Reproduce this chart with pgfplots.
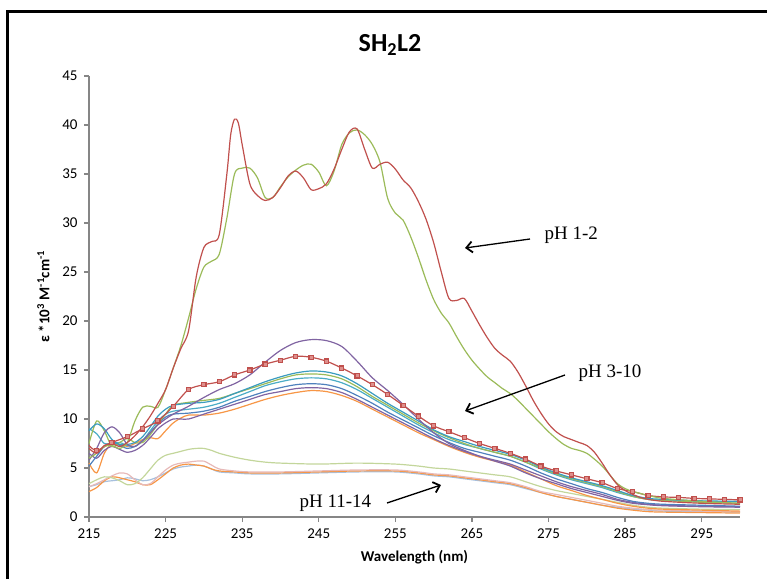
\documentclass[border=0pt]{standalone}
\usepackage{fontspec}
\setmainfont{Carlito}
\newfontfamily\timesfont{Liberation Serif}
\usepackage{pgfplots}
\pgfplotsset{compat=1.18}
\usetikzlibrary{arrows.meta}
\definecolor{xred}{HTML}{C0504D}
\definecolor{xredm}{HTML}{DE8F8C}
\definecolor{xgreen}{HTML}{9BBB59}
\definecolor{xpurple}{HTML}{8064A2}
\definecolor{xteal}{HTML}{3A9CC0}
\definecolor{xcyan}{HTML}{4BACC6}
\definecolor{xblue}{HTML}{4F81BD}
\definecolor{xorange}{HTML}{F79646}
\definecolor{xlgreen}{HTML}{C3D69B}
\definecolor{xpink}{HTML}{E6B9B8}
\definecolor{xlblue}{HTML}{A7C0DE}
\definecolor{axgray}{HTML}{868686}
\begin{document}
\begin{tikzpicture}[x=1pt,y=1pt]
\path[use as bounding box] (0,0) rectangle (767,579);
\draw[line width=3pt] (7,0) -- (7,567) -- (767,567);
\begin{axis}[
  at={(89pt,62pt)}, anchor=south west,
  scale only axis, width=651pt, height=441pt,
  xmin=215, xmax=300, ymin=0, ymax=45,
  xtick={215,225,...,295}, ytick={0,5,...,45},
  axis x line*=bottom, axis y line*=left,
  axis line style={draw=axgray, line width=1.3pt},
  tick style={draw=axgray, line width=1.3pt},
  tick align=outside, major tick length=5pt,
  /pgf/number format/assume math mode=true,
  /pgf/number format/1000 sep={},
  tick label style={font=\fontsize{15}{17}\selectfont, text=black},
  xticklabel style={yshift=-3pt},
  yticklabel style={xshift=-3pt},
  xlabel={\textbf{Wavelength (nm)}},
  ylabel={\textbf{ε *10\textsuperscript{3} M\textsuperscript{-1}cm\textsuperscript{-1}}},
  label style={font=\fontsize{15}{17}\selectfont},
  xlabel style={at={(axis description cs:0.5,-0.091)}, anchor=center},
  ylabel style={at={(axis description cs:-0.07,0.5)}, anchor=center},
  clip=false,
  every axis plot/.append style={line width=1.2pt, smooth, tension=0.5},
]
% ---------- pH 11-14 ----------
\addplot[xlblue, no marks] coordinates {(215,3.1)(216,3.3)(217,3.6)(218,3.7)(219,3.8)(220,4.0)(221,3.9)(222,3.7)(223,3.8)(224,4.1)(225,4.5)(226,4.9)(227,5.1)(228,5.2)(229,5.3)(230,5.2)(231,4.9)(232,4.6)(234,4.5)(236,4.4)(240,4.4)(245,4.5)(250,4.6)(255,4.6)(258,4.4)(260,4.2)(262,4.1)(264,3.9)(266,3.7)(268,3.5)(270,3.3)(272,2.9)(274,2.5)(276,2.1)(278,1.8)(280,1.5)(282,1.2)(284,1.0)(286,0.8)(288,0.7)(290,0.6)(295,0.55)(300,0.5)};
\addplot[xorange, no marks] coordinates {(215,2.6)(216,3.0)(217,3.7)(218,4.1)(219,4.0)(220,3.8)(221,3.6)(222,3.3)(223,3.3)(224,3.8)(225,4.4)(226,5.0)(227,5.3)(228,5.4)(229,5.3)(230,5.2)(231,4.9)(232,4.7)(234,4.6)(236,4.5)(240,4.5)(245,4.6)(250,4.7)(255,4.7)(258,4.5)(260,4.3)(262,4.2)(264,4.0)(266,3.8)(268,3.6)(270,3.4)(272,3.0)(274,2.5)(276,2.1)(278,1.8)(280,1.5)(282,1.2)(284,0.9)(286,0.7)(288,0.55)(290,0.5)(295,0.45)(300,0.4)};
\addplot[xpink, no marks] coordinates {(215,3.1)(216,3.4)(217,3.8)(218,4.2)(219,4.5)(220,4.4)(221,3.8)(222,3.3)(223,3.4)(224,4.1)(225,4.8)(226,5.3)(227,5.5)(228,5.6)(229,5.7)(230,5.7)(231,5.3)(232,4.9)(234,4.7)(236,4.6)(240,4.6)(245,4.7)(250,4.8)(255,4.8)(258,4.6)(260,4.4)(262,4.3)(264,4.1)(266,3.9)(268,3.7)(270,3.5)(272,3.1)(274,2.6)(276,2.3)(278,2.0)(280,1.7)(282,1.4)(284,1.1)(286,0.9)(288,0.75)(290,0.7)(295,0.6)(300,0.55)};
\addplot[xlgreen, no marks] coordinates {(215,3.4)(216,3.8)(217,4.1)(218,4.0)(219,3.7)(220,3.3)(221,3.4)(222,4.0)(223,4.9)(224,5.8)(225,6.3)(226,6.5)(227,6.7)(228,6.9)(229,7.0)(230,7.0)(231,6.8)(232,6.5)(234,6.1)(236,5.8)(238,5.6)(240,5.5)(245,5.4)(250,5.5)(255,5.4)(258,5.2)(260,5.0)(262,4.9)(264,4.7)(266,4.5)(268,4.3)(270,4.1)(272,3.6)(274,3.1)(276,2.7)(278,2.4)(280,2.1)(282,1.8)(284,1.5)(286,1.2)(288,1.0)(290,0.9)(295,0.8)(300,0.75)};
% ---------- pH 3-10 ----------
\addplot[xorange, no marks] coordinates {(215,5.5)(216,4.5)(217,6.5)(218,7.5)(219,7.4)(220,7.2)(221,7.5)(222,7.9)(223,8.1)(224,8.0)(225,8.8)(226,9.6)(227,10.1)(228,10.4)(230,10.4)(232,10.6)(234,11.0)(236,11.5)(238,12.0)(240,12.4)(242,12.7)(244,12.9)(246,12.8)(248,12.4)(250,11.8)(252,11.0)(254,10.2)(256,9.4)(258,8.6)(260,7.9)(262,7.2)(264,6.6)(266,6.1)(268,5.7)(270,5.3)(272,4.6)(274,3.9)(276,3.2)(278,2.7)(280,2.2)(282,1.8)(284,1.4)(286,1.1)(288,0.9)(290,0.8)(295,0.7)(300,0.6)};
\addplot[xpurple, no marks] coordinates {(215,6.5)(216,6.0)(217,6.8)(218,7.2)(219,6.9)(220,6.6)(221,6.8)(222,7.3)(223,8.1)(224,9.0)(225,9.6)(226,10.0)(227,10.0)(228,10.0)(230,10.5)(232,11.0)(234,11.5)(236,12.0)(238,12.5)(240,12.8)(242,13.1)(244,13.2)(246,13.1)(248,12.7)(250,12.0)(252,11.2)(254,10.4)(256,9.6)(258,8.8)(260,8.0)(262,7.3)(264,6.7)(266,6.2)(268,5.8)(270,5.4)(272,4.8)(274,4.2)(276,3.6)(278,3.1)(280,2.7)(282,2.3)(284,1.8)(286,1.5)(288,1.3)(290,1.2)(295,1.1)(300,1.05)};
\addplot[xblue, no marks] coordinates {(215,5.2)(216,6.2)(217,7.2)(218,7.6)(219,7.3)(220,7.0)(221,7.2)(222,7.8)(223,8.6)(224,9.5)(225,10.2)(226,10.5)(228,10.6)(230,10.8)(232,11.2)(234,11.8)(236,12.3)(238,12.8)(240,13.2)(242,13.5)(244,13.6)(246,13.5)(248,13.1)(250,12.4)(252,11.6)(254,10.7)(256,9.9)(258,9.1)(260,8.3)(262,7.6)(264,7.0)(266,6.6)(268,6.2)(270,5.8)(272,5.2)(274,4.5)(276,3.9)(278,3.4)(280,2.9)(282,2.5)(284,2.0)(286,1.6)(288,1.4)(290,1.3)(295,1.2)(300,1.1)};
\addplot[xcyan, no marks] coordinates {(215,9.0)(216,8.5)(217,7.5)(218,7.5)(219,7.6)(220,7.3)(221,7.2)(222,7.8)(223,8.8)(224,9.8)(225,10.5)(226,10.8)(228,11.0)(230,11.2)(232,11.6)(234,12.2)(236,12.8)(238,13.4)(240,13.8)(242,14.1)(244,14.2)(246,14.1)(248,13.7)(250,13.0)(252,12.1)(254,11.2)(256,10.3)(258,9.4)(260,8.6)(262,7.9)(264,7.4)(266,7.0)(268,6.6)(270,6.2)(272,5.6)(274,4.9)(276,4.3)(278,3.8)(280,3.4)(282,3.0)(284,2.5)(286,2.1)(288,1.8)(290,1.7)(295,1.6)(300,1.55)};
\addplot[xgreen, no marks] coordinates {(215,7.5)(216,9.8)(217,8.8)(218,7.2)(219,7.6)(220,8.0)(221,7.6)(222,7.6)(223,8.4)(224,9.5)(225,10.5)(226,11.4)(228,11.7)(230,11.9)(232,12.1)(234,12.6)(236,13.1)(238,13.6)(240,14.1)(242,14.5)(244,14.6)(246,14.5)(248,14.1)(250,13.3)(252,12.3)(254,11.4)(256,10.5)(258,9.6)(260,8.8)(262,8.1)(264,7.5)(266,7.0)(268,6.6)(270,6.2)(272,5.6)(274,5.0)(276,4.4)(278,3.9)(280,3.5)(282,3.1)(284,2.6)(286,2.1)(288,1.8)(290,1.7)(295,1.5)(300,1.4)};
\addplot[xteal, no marks] coordinates {(215,8.8)(216,9.5)(217,9.0)(218,7.9)(219,7.4)(220,7.4)(221,7.6)(222,8.2)(223,9.2)(224,10.3)(225,11.0)(226,11.4)(228,11.6)(230,11.7)(232,12.0)(234,12.6)(236,13.2)(238,13.8)(240,14.3)(242,14.7)(244,14.9)(246,14.8)(248,14.4)(250,13.6)(252,12.6)(254,11.6)(256,10.7)(258,9.8)(260,8.9)(262,8.2)(264,7.7)(266,7.2)(268,6.8)(270,6.4)(272,5.8)(274,5.1)(276,4.5)(278,4.0)(280,3.6)(282,3.2)(284,2.7)(286,2.2)(288,1.9)(290,1.8)(295,1.65)(300,1.6)};
\addplot[xpurple, no marks] coordinates {(215,5.8)(216,7.0)(217,8.6)(218,9.2)(219,8.6)(220,7.4)(221,7.2)(222,7.8)(223,8.6)(224,9.4)(225,10.0)(226,10.5)(228,11.3)(230,12.2)(232,13.0)(234,13.6)(236,14.5)(238,15.8)(240,17.0)(242,17.8)(244,18.1)(246,18.0)(248,17.4)(250,15.9)(252,14.2)(254,12.9)(256,11.5)(258,10.0)(260,8.6)(262,7.5)(264,6.8)(266,6.2)(268,5.7)(270,5.2)(272,4.5)(274,3.9)(276,3.4)(278,2.9)(280,2.5)(282,2.1)(284,1.7)(286,1.4)(288,1.25)(290,1.15)(295,1.05)(300,1.0)};
\addplot[xred, mark=square*, mark size=2.1pt, mark indices={2,...,44},
  mark options={draw=none, fill=xredm, solid}] coordinates {(215,7.3)(216,6.8)(218,7.6)(220,8.2)(222,9.0)(224,9.8)(226,11.3)(228,13.0)(230,13.5)(232,13.8)(234,14.5)(236,15.0)(238,15.6)(240,16.0)(242,16.4)(244,16.3)(246,15.9)(248,15.2)(250,14.4)(252,13.5)(254,12.5)(256,11.4)(258,10.3)(260,9.3)(262,8.7)(264,8.1)(266,7.5)(268,7.0)(270,6.5)(272,5.9)(274,5.2)(276,4.7)(278,4.3)(280,3.9)(282,3.5)(284,2.9)(286,2.6)(288,2.2)(290,2.05)(292,2.0)(294,1.9)(296,1.85)(298,1.8)(300,1.75)};
% ---------- pH 1-2 ----------
\addplot[xgreen, no marks] coordinates {(215,6.0)(216,6.5)(217,7.2)(218,7.3)(219,7.0)(220,7.6)(221,9.8)(222,11.2)(223,11.3)(224,11.2)(225,13.0)(226,15.2)(227,17.5)(228,20.3)(229,23.3)(230,25.5)(231,26.1)(232,26.8)(233,30.5)(234,35.0)(235,35.6)(236,35.6)(237,34.6)(238,32.6)(239,32.6)(240,33.7)(241,34.7)(242,35.4)(243,35.9)(244,36.0)(245,35.2)(246,33.8)(247,35.3)(248,38.0)(249,39.2)(250,39.5)(251,39.0)(252,38.0)(253,36.2)(254,32.5)(255,31.0)(256,30.3)(257,28.6)(258,26.5)(259,24.2)(260,22.2)(261,20.8)(262,19.8)(263,18.4)(264,17.1)(265,16.0)(266,15.1)(267,14.3)(268,13.7)(269,13.1)(270,12.6)(271,11.9)(272,11.1)(273,10.3)(274,9.5)(275,8.7)(276,8.0)(277,7.4)(278,7.0)(279,6.8)(280,6.5)(281,5.9)(282,5.2)(283,4.3)(284,3.4)(285,2.9)(286,2.6)(287,2.4)(288,2.2)(290,1.9)(295,1.6)(300,1.4)};
\addplot[xred, no marks] coordinates {(215,7.0)(216,6.5)(217,7.3)(218,7.5)(219,7.2)(220,7.6)(221,8.3)(222,9.2)(223,10.3)(224,11.6)(225,13.0)(226,15.2)(227,17.2)(228,19.0)(229,24.5)(230,27.5)(231,28.1)(232,28.8)(233,35.0)(233.5,39.0)(234,40.6)(234.5,40.2)(235,38.0)(236,34.0)(237,32.8)(238,32.3)(239,32.6)(240,33.6)(241,34.8)(242,35.3)(243,34.6)(244,33.4)(245,33.5)(246,34.0)(247,35.5)(248,37.5)(249,39.3)(250,39.6)(251,37.5)(252,35.6)(253,36.0)(254,36.2)(255,35.5)(256,34.4)(257,33.6)(258,32.2)(259,30.4)(260,28.0)(261,25.0)(262,22.3)(263,22.1)(264,22.3)(265,21.0)(266,19.6)(267,18.3)(268,17.2)(269,16.5)(270,15.9)(271,14.8)(272,13.4)(273,11.9)(274,10.6)(275,9.5)(276,8.7)(277,8.2)(278,7.9)(279,7.6)(280,7.3)(281,6.6)(282,5.5)(283,4.3)(284,3.3)(285,2.7)(286,2.3)(287,2.0)(288,1.8)(290,1.6)(295,1.4)(300,1.3)};
\end{axis}
\node[font=\bfseries\fontsize{26}{30}\selectfont] at (390,534) {SH\textsubscript{2}L2};
\node[font=\timesfont\fontsize{19}{22}\selectfont, anchor=west] at (541,344) {pH 1-2};
\node[font=\timesfont\fontsize{19}{22}\selectfont, anchor=west] at (575,206) {pH 3-10};
\node[font=\timesfont\fontsize{19}{22}\selectfont, anchor=west] at (296,76) {pH 11-14};
\draw[line width=1.3pt, -{Straight Barb[length=6pt,width=11pt,line width=1.8pt]}] (530,340) -- (465,331);
\draw[line width=1.3pt, -{Straight Barb[length=6pt,width=11pt,line width=1.8pt]}] (565,204) -- (465,168);
\draw[line width=1.3pt, -{Straight Barb[length=6pt,width=11pt,line width=1.8pt]}] (387,76) -- (441,94);
\end{tikzpicture}
\end{document}
